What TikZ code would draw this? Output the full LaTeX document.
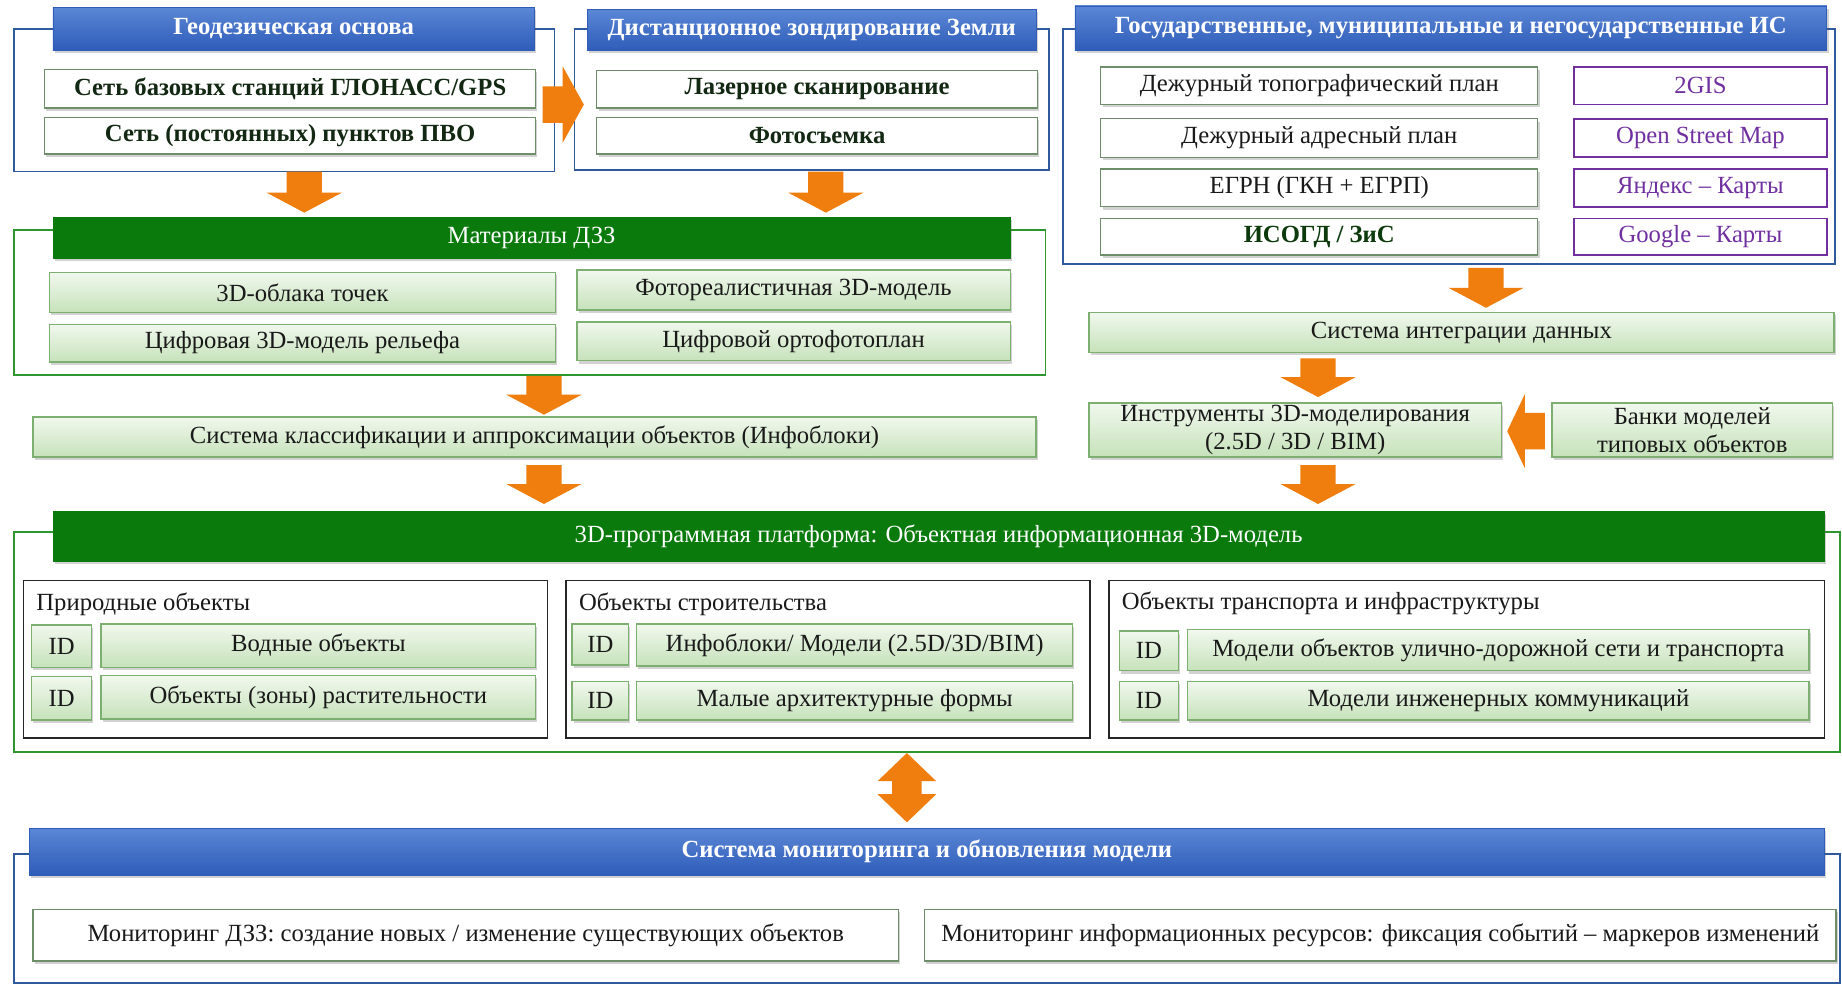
\documentclass[tikz,border=0pt]{standalone}
\usepackage{fontspec}
\setmainfont{Liberation Serif}
\usetikzlibrary{calc,shadows}

\definecolor{blueTop}{HTML}{5B87D6}
\definecolor{blueBot}{HTML}{2E5CB8}
\definecolor{blueLine}{HTML}{2F5B9E}
\definecolor{greenHead}{HTML}{0A7A0C}
\definecolor{greenLine}{HTML}{2E962E}
\definecolor{boxLine}{HTML}{6E8E6A}
\definecolor{gTop}{HTML}{F1F8EE}
\definecolor{gBot}{HTML}{C6E2BA}
\definecolor{gLine}{HTML}{7DAF70}
\definecolor{plum}{HTML}{7030A0}
\definecolor{arrowOrange}{HTML}{F07E0E}
\definecolor{darkText}{HTML}{122812}
\definecolor{isogd}{HTML}{0C3A0C}

\newcommand\fs{\fontsize{21}{24}\selectfont}

% box from (x1,y1) to (x2,y2): name, x1, y1, x2, y2, style, text
\newcommand\bx[7]{%
  \node[#6, minimum width={#4-#2}, minimum height={#5-#3}] (#1)
    at ({(#2+#4)/2},{(#3+#5)/2}) {#7};}

% block arrow pointing down: x, from, to, start gap, end gap
\newcommand\arrDown[5]{%
  \fill[arrowFill] let \p1=(#2), \p2=(#3) in
    ({#1pt-15pt},{\y1-#4pt}) -- ({#1pt+15pt},{\y1-#4pt}) --
    ({#1pt+15pt},{\y2+#5pt+17pt}) -- ({#1pt+32pt},{\y2+#5pt+17pt}) --
    ({#1pt},{\y2+#5pt}) -- ({#1pt-32pt},{\y2+#5pt+17pt}) --
    ({#1pt-15pt},{\y2+#5pt+17pt}) -- cycle;}

% block arrow pointing right: y, from, to, back overlap, overlap into target
\newcommand\arrRight[5]{%
  \fill[arrowFill] let \p1=(#2), \p2=(#3) in
    ({\x1-#4pt},{-#1pt+15.5pt}) -- ({\x2+#5pt-18pt},{-#1pt+15.5pt}) --
    ({\x2+#5pt-18pt},{-#1pt+32.5pt}) -- ({\x2+#5pt},{-#1pt}) --
    ({\x2+#5pt-18pt},{-#1pt-32.5pt}) -- ({\x2+#5pt-18pt},{-#1pt-15.5pt}) --
    ({\x1-#4pt},{-#1pt-15.5pt}) -- cycle;}

% block arrow pointing left: y, from, to, start gap, end gap
\newcommand\arrLeft[5]{%
  \fill[arrowFill] let \p1=(#2), \p2=(#3) in
    ({\x1-#4pt},{-#1pt+15.5pt}) -- ({\x2+#5pt+15pt},{-#1pt+15.5pt}) --
    ({\x2+#5pt+15pt},{-#1pt+31.5pt}) -- ({\x2+#5pt},{-#1pt}) --
    ({\x2+#5pt+15pt},{-#1pt-31.5pt}) -- ({\x2+#5pt+15pt},{-#1pt-15.5pt}) --
    ({\x1-#4pt},{-#1pt-15.5pt}) -- cycle;}

% two-headed vertical block arrow: x, from, to
\newcommand\arrBoth[3]{%
  \fill[arrowFill] let \p1=(#2), \p2=(#3) in
    ({#1pt},{\y1-1pt}) -- ({#1pt+25pt},{\y1-25pt}) -- ({#1pt+12.5pt},{\y1-25pt}) --
    ({#1pt+12.5pt},{\y2+29pt}) -- ({#1pt+25pt},{\y2+29pt}) -- ({#1pt},{\y2+5pt}) --
    ({#1pt-25pt},{\y2+29pt}) -- ({#1pt-12.5pt},{\y2+29pt}) --
    ({#1pt-12.5pt},{\y1-25pt}) -- ({#1pt-25pt},{\y1-25pt}) -- cycle;}

\tikzset{
  every node/.style={inner sep=0pt, outer sep=0pt, align=center, font=\fs},
  softShadow/.style={drop shadow={shadow xshift=1.5pt, shadow yshift=-2.5pt,
      opacity=0.25, fill=black!70}},
  outerBlue/.style={draw=blueLine, line width=1.6pt},
  outerGreen/.style={draw=greenLine, line width=1.6pt},
  groupBox/.style={draw=black!85, line width=1.3pt},
  headBlue/.style={top color=blueTop, bottom color=blueBot, draw=blueBot,
      line width=0.5pt, text=white, font=\fs\bfseries, softShadow},
  headGreen/.style={fill=greenHead, draw=greenHead, text=white, softShadow},
  plainBox/.style={fill=white, draw=boxLine, line width=1.2pt, text=black!90, softShadow},
  plainBold/.style={plainBox, text=darkText, font=\fs\bfseries},
  gradBox/.style={top color=gTop, bottom color=gBot, draw=gLine, line width=1.2pt,
      text=black!90, softShadow},
  plumBox/.style={fill=white, draw=plum, line width=1.6pt, text=plum},
  groupLabel/.style={anchor=west, text=black!90},
  arrowFill/.style={fill=arrowOrange, draw=none},
}

\begin{document}
\begin{tikzpicture}[x=1pt,y=-1pt]
\fill[white] (0,0) rectangle (1568,839);
\useasboundingbox (0,0) rectangle (1568,839);

% ---------- geodetic base ----------
\bx{geo}{12}{25}{472}{146}{outerBlue}{}
\bx{geoH}{45}{6}{455}{43}{headBlue}{Геодезическая основа}
\bx{geo1}{38}{59}{456}{92}{plainBold}{Сеть базовых станций ГЛОНАСС/GPS}
\bx{geo2}{38}{100}{456}{131}{plainBold}{Сеть (постоянных) пунктов ПВО}

% ---------- remote sensing ----------
\bx{dzz}{489}{25}{893}{145}{outerBlue}{}
\bx{dzzH}{500}{8}{882}{43}{headBlue}{Дистанционное зондирование Земли}
\bx{dzz1}{508}{60}{883}{92}{plainBold}{Лазерное сканирование}
\bx{dzz2}{508}{100}{883}{131}{plainBold}{Фотосъемка}

\arrRight{89}{geo.east}{dzz.west}{10}{8}

% ---------- information systems ----------
\bx{gov}{905}{25}{1562}{225}{outerBlue}{}
\bx{govH}{915}{5}{1555}{43}{headBlue}{Государственные, муниципальные и негосударственные ИС}
\bx{gov1}{937}{57}{1309}{89}{plainBox}{Дежурный топографический план}
\bx{gov2}{937}{101}{1309}{134}{plainBox}{Дежурный адресный план}
\bx{gov3}{937}{144}{1309}{176}{plainBox}{ЕГРН (ГКН + ЕГРП)}
\bx{gov4}{937}{186}{1309}{217}{plainBox, text=isogd, font=\fs\bfseries}{ИСОГД / ЗиС}
\bx{map1}{1340}{57}{1555}{89}{plumBox}{2GIS}
\bx{map2}{1340}{101}{1555}{134}{plumBox}{Open Street Map}
\bx{map3}{1340}{144}{1555}{176}{plumBox}{Яндекс – Карты}
\bx{map4}{1340}{186}{1555}{217}{plumBox}{Google – Карты}

% ---------- remote sensing products ----------
\bx{mat}{12}{196}{890}{319}{outerGreen}{}
\bx{matH}{45}{185}{860}{220}{headGreen}{Материалы ДЗЗ}
\bx{mat1}{42}{232}{473}{266}{gradBox}{3D-облака точек}
\bx{mat2}{491}{230}{860}{264}{gradBox}{Фотореалистичная 3D-модель}
\bx{mat3}{42}{276}{473}{308}{gradBox}{Цифровая 3D-модель рельефа}
\bx{mat4}{491}{274}{860}{307}{gradBox}{Цифровой ортофотоплан}

\arrDown{259}{geo.south}{matH.north}{0}{4}
\arrDown{703}{dzz.south}{matH.north}{1}{4}

\bx{cls}{28}{355}{882}{389}{gradBox}{Система классификации и аппроксимации объектов (Инфоблоки)}
\arrDown{463}{mat.south}{cls.north}{1}{2}

% ---------- integration branch ----------
\bx{integ}{927}{266}{1561}{300}{gradBox}{Система интеграции данных}
\bx{instr}{927}{343}{1278}{389}{gradBox}{Инструменты 3D-моделирования\\(2.5D / 3D / BIM)}
\bx{banks}{1321}{343}{1560}{389}{gradBox}{Банки моделей\\типовых объектов}
\arrDown{1265}{gov.south}{integ.north}{3}{4}
\arrDown{1122}{integ.south}{instr.north}{5}{5}
\arrLeft{367}{banks.west}{instr.east}{6}{5}

% ---------- 3D platform ----------
\bx{plat}{12}{453}{1566}{640}{outerGreen}{}
\bx{platH}{45}{435}{1553}{478}{headGreen}{3D-программная платформа: Объектная информационная 3D-модель}
\arrDown{463}{cls.south}{platH.north}{7}{6}
\arrDown{1122}{instr.south}{platH.north}{7}{6}

\bx{grpA}{20}{494}{466}{628}{groupBox}{}
\node[groupLabel] (grpAL) at (31,514) {Природные объекты};
\bx{idA1}{27}{532}{78}{568}{gradBox}{ID}
\bx{objA1}{86}{531}{456}{568}{gradBox}{Водные объекты}
\bx{idA2}{27}{576}{78}{613}{gradBox}{ID}
\bx{objA2}{86}{575}{456}{612}{gradBox}{Объекты (зоны) растительности}

\bx{grpB}{482}{494}{928}{628}{groupBox}{}
\node[groupLabel] (grpBL) at (493,514) {Объекты строительства};
\bx{idB1}{487}{531}{535}{566}{gradBox}{ID}
\bx{objB1}{542}{531}{913}{567}{gradBox}{Инфоблоки/ Модели (2.5D/3D/BIM)}
\bx{idB2}{487}{580}{535}{613}{gradBox}{ID}
\bx{objB2}{542}{580}{913}{613}{gradBox}{Малые архитектурные формы}

\bx{grpC}{944}{494}{1553}{628}{groupBox}{}
\node[groupLabel] (grpCL) at (955,514) {Объекты транспорта и инфраструктуры};
\bx{idC1}{953}{537}{1003}{571}{gradBox}{ID}
\bx{objC1}{1011}{536}{1540}{571}{gradBox}{Модели объектов улично-дорожной сети и транспорта}
\bx{idC2}{953}{580}{1003}{613}{gradBox}{ID}
\bx{objC2}{1011}{580}{1540}{613}{gradBox}{Модели инженерных коммуникаций}

% ---------- monitoring ----------
\bx{mon}{12}{727}{1566}{837}{outerBlue}{}
\bx{monH}{25}{705}{1553}{745}{headBlue}{Система мониторинга и обновления модели}
\bx{mon1}{28}{774}{765}{818}{plainBox}{Мониторинг ДЗЗ: создание новых / изменение существующих объектов}
\bx{mon2}{787}{774}{1563}{818}{plainBox}{Мониторинг информационных ресурсов: фиксация событий – маркеров изменений}

\arrBoth{772}{plat.south}{monH.north}
\end{tikzpicture}
\end{document}
